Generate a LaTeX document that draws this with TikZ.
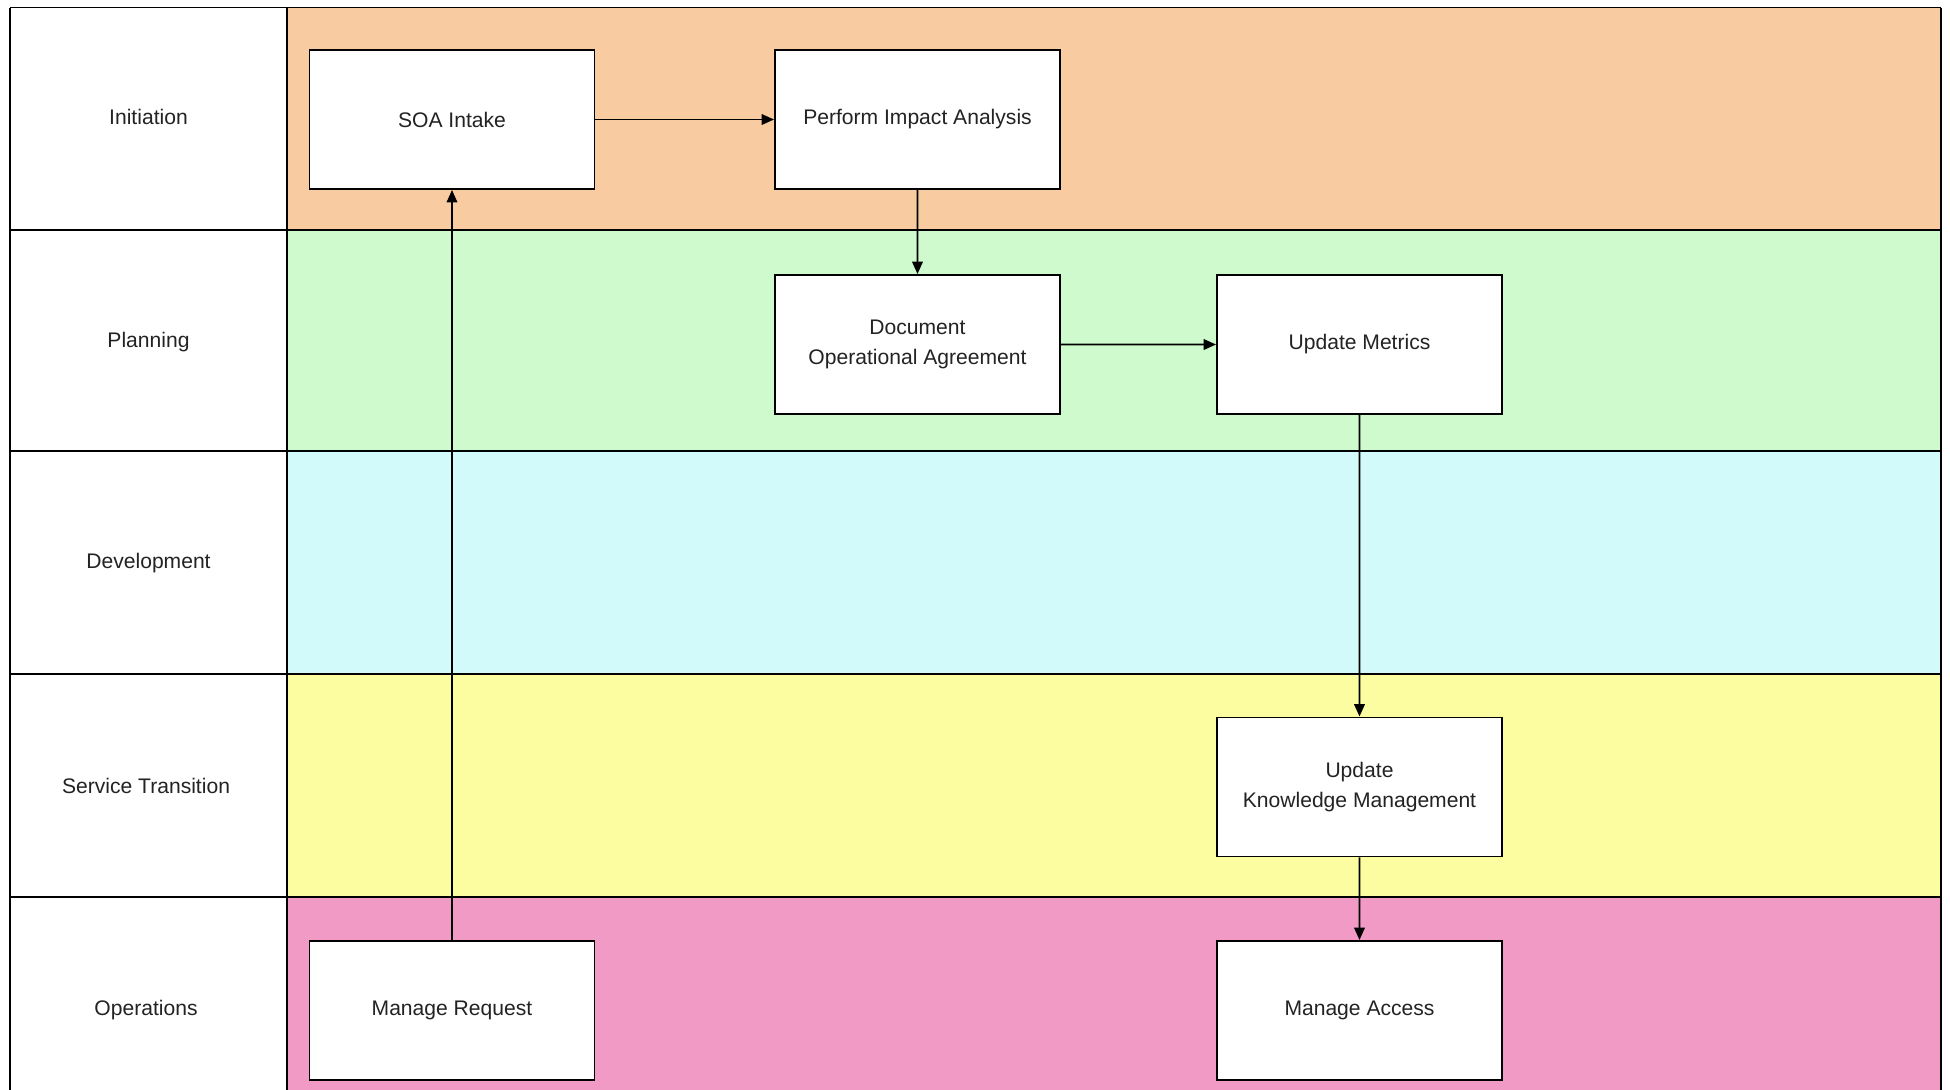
\documentclass[tikz,border=0pt]{standalone}
\usepackage{fontspec}
\setmainfont{Liberation Sans}
\usepackage{xcolor}
\usetikzlibrary{arrows.meta}

\definecolor{initfill}{RGB}{248,204,160}
\definecolor{planfill}{RGB}{206,250,206}
\definecolor{devfill}{RGB}{210,250,250}
\definecolor{transfill}{RGB}{252,252,160}
\definecolor{opsfill}{RGB}{242,154,198}
\definecolor{textgray}{RGB}{35,35,35}

\begin{document}
\begin{tikzpicture}[scale=0.2,
	task/.style={draw=black, fill=white, line width=1.1pt, minimum width=5.7cm, minimum height=2.78cm, align=center, text=textgray},
	lanelabel/.style={text=textgray},
	flow/.style={draw=black, line width=0.9pt, -{Triangle[length=7pt,width=6pt]}}]
	\tikzstyle{every node}+=[inner sep=0pt, font=\fontsize{12}{17}\selectfont]
	\clip (0,0) rectangle (195,-108.9);
	\fill [white] (0,0) rectangle (195,-108.9);
	% lanes
	\foreach \top/\bot/\col in {-0.75/-23.0/initfill, -23.0/-45.1/planfill, -45.1/-67.4/devfill, -67.4/-89.7/transfill, -89.7/-112/opsfill}
		\fill [\col] (28.7,\top) rectangle (194.1,\bot);
	\foreach \y in {-0.75,-23.0,-45.1,-67.4,-89.7}
		\draw [black, line width=1.1pt] (1.0,\y) -- (194.1,\y);
	\foreach \x in {1.0,28.7,194.1}
		\draw [black, line width=1.1pt] (\x,-0.75) -- (\x,-112);
	% lane names
	\node [lanelabel] (initiation) at (14.85,-11.7) {Initiation};
	\node [lanelabel] (planning) at (14.85,-34.2) {Planning};
	\node [lanelabel] (development) at (14.85,-56.3) {Development};
	\node [lanelabel] (transition) at (14.6,-78.6) {Service Transition};
	\node [lanelabel] (operations) at (14.6,-101.0) {Operations};
	% tasks
	\node [task] (intake) at (45.2,-11.95) {SOA Intake};
	\node [task] (impact) at (91.75,-11.95) {Perform Impact Analysis};
	\node [task] (agreement) at (91.75,-34.45) {Document\\Operational Agreement};
	\node [task] (metrics) at (135.95,-34.45) {Update Metrics};
	\node [task] (knowledge) at (135.95,-78.7) {Update\\Knowledge Management};
	\node [task] (access) at (135.95,-101.05) {Manage Access};
	\node [task] (request) at (45.2,-101.05) {Manage Request};
	% connectors
	\draw [flow] (intake) -- (impact);
	\draw [flow] (impact) -- (agreement);
	\draw [flow] (agreement) -- (metrics);
	\draw [flow] (metrics) -- (knowledge);
	\draw [flow] (knowledge) -- (access);
	\draw [flow] (request) -- (intake);
\end{tikzpicture}
\end{document}
